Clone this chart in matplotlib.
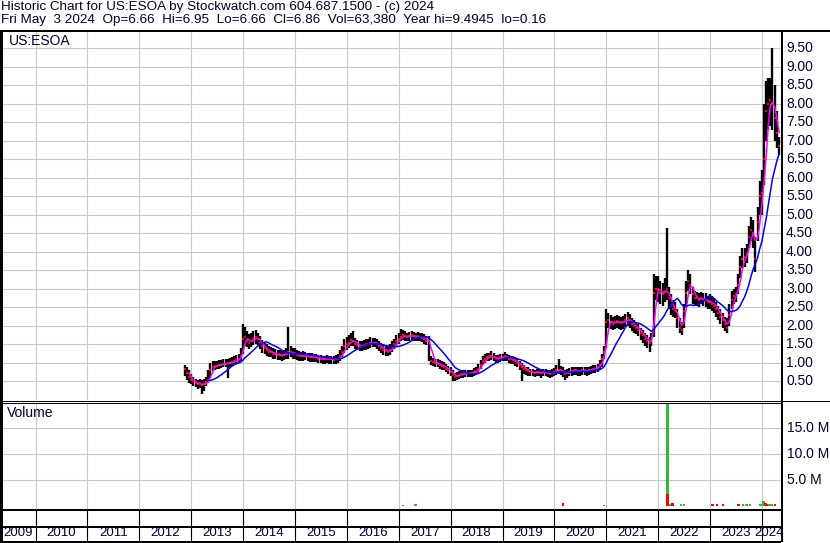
import numpy as np
import pandas as pd
import matplotlib
matplotlib.use("Agg")
import matplotlib.pyplot as plt
from matplotlib.lines import Line2D
from matplotlib.transforms import blended_transform_factory

plt.rcParams['font.family'] = ['Liberation Sans', 'DejaVu Sans']

W, H = 830, 543
INK = "#000033"

# semi-monthly bars (1st / 15th), starting 2012-11-15, last one 2024-05-01
close_px = [
    0.85, 0.72, 0.62,  # 2012
    0.55, 0.50, 0.45, 0.42, 0.45, 0.40, 0.42, 0.48, 0.55, 0.80, 0.90, 0.92,
    0.93, 0.95, 0.95, 0.97, 0.98, 1.00, 1.00, 1.02, 1.05, 1.08, 1.10, 1.20,  # 2013
    1.65, 1.70, 1.60, 1.55, 1.60, 1.65, 1.70, 1.65, 1.55, 1.45, 1.40, 1.35,
    1.30, 1.30, 1.25, 1.25, 1.22, 1.22, 1.20, 1.22, 1.25, 1.30, 1.30, 1.25,  # 2014
    1.25, 1.22, 1.20, 1.18, 1.20, 1.20, 1.18, 1.15, 1.15, 1.15, 1.15, 1.12,
    1.12, 1.10, 1.10, 1.12, 1.10, 1.10, 1.08, 1.10, 1.12, 1.20, 1.30, 1.45,  # 2015
    1.50, 1.55, 1.62, 1.60, 1.52, 1.48, 1.45, 1.45, 1.48, 1.50, 1.52, 1.55,
    1.55, 1.55, 1.50, 1.45, 1.40, 1.35, 1.32, 1.30, 1.35, 1.42, 1.50, 1.58,  # 2016
    1.65, 1.70, 1.75, 1.72, 1.70, 1.72, 1.75, 1.72, 1.70, 1.72, 1.70, 1.68,
    1.65, 1.60, 1.60, 1.05, 1.02, 1.00, 0.98, 0.95, 0.92, 0.90, 0.85, 0.80,  # 2017
    0.75, 0.68, 0.62, 0.65, 0.68, 0.70, 0.70, 0.72, 0.72, 0.72, 0.72, 0.75,
    0.78, 0.85, 0.95, 1.05, 1.12, 1.15, 1.18, 1.20, 1.15, 1.12, 1.12, 1.15,  # 2018
    1.15, 1.18, 1.15, 1.12, 1.10, 1.08, 1.05, 1.00, 0.95, 0.90, 0.85, 0.80,
    0.78, 0.75, 0.75, 0.72, 0.75, 0.75, 0.72, 0.75, 0.75, 0.72, 0.70, 0.72,  # 2019
    0.75, 0.80, 0.82, 0.80, 0.75, 0.70, 0.72, 0.75, 0.78, 0.80, 0.80, 0.78,
    0.78, 0.80, 0.80, 0.78, 0.80, 0.82, 0.85, 0.85, 0.88, 0.95, 1.10, 1.30,  # 2020
    2.10, 2.15, 2.10, 2.05, 2.10, 2.12, 2.10, 2.08, 2.10, 2.15, 2.20, 2.15,
    2.05, 2.00, 1.95, 1.90, 1.80, 1.75, 1.65, 1.60, 1.55, 1.60, 2.90, 3.00,  # 2021
    3.00, 2.90, 2.85, 2.95, 3.00, 2.75, 2.55, 2.45, 2.40, 2.20, 1.95, 1.90,
    2.40, 2.90, 3.20, 3.10, 2.85, 2.75, 2.75, 2.70, 2.75, 2.72, 2.70, 2.65,  # 2022
    2.65, 2.60, 2.55, 2.45, 2.35, 2.25, 2.15, 2.05, 1.95, 2.30, 2.70, 2.80,
    2.85, 3.10, 3.60, 3.80, 3.85, 3.95, 4.40, 4.60, 4.50, 3.80, 4.80, 5.50,  # 2023
    5.60, 6.50, 7.80, 8.00, 8.10, 8.00, 7.60, 7.20, 6.86,  # 2024
]

high_px = [
    0.95, 0.90, 0.80,
    0.70, 0.62, 0.58, 0.55, 0.58, 0.55, 0.56, 0.62, 0.80, 1.00, 1.05, 1.05,
    1.06, 1.08, 1.08, 1.10, 1.10, 1.12, 1.14, 1.15, 1.18, 1.22, 1.25, 1.40,
    2.05, 1.98, 1.85, 1.78, 1.80, 1.85, 1.88, 1.82, 1.72, 1.62, 1.55, 1.50,
    1.45, 1.42, 1.40, 1.38, 1.36, 1.35, 1.33, 1.35, 1.40, 1.98, 1.45, 1.40,
    1.40, 1.35, 1.32, 1.30, 1.32, 1.30, 1.28, 1.26, 1.26, 1.25, 1.25, 1.22,
    1.22, 1.20, 1.20, 1.22, 1.20, 1.20, 1.18, 1.22, 1.25, 1.35, 1.45, 1.65,
    1.70, 1.75, 1.80, 1.85, 1.68, 1.62, 1.60, 1.60, 1.62, 1.65, 1.66, 1.70,
    1.68, 1.68, 1.65, 1.60, 1.55, 1.50, 1.46, 1.45, 1.50, 1.58, 1.66, 1.75,
    1.80, 1.92, 1.88, 1.85, 1.82, 1.84, 1.86, 1.84, 1.82, 1.84, 1.82, 1.80,
    1.78, 1.74, 1.72, 1.20, 1.14, 1.12, 1.10, 1.08, 1.05, 1.02, 0.98, 0.92,
    0.88, 0.80, 0.74, 0.76, 0.78, 0.80, 0.80, 0.82, 0.82, 0.82, 0.82, 0.86,
    0.90, 0.98, 1.08, 1.18, 1.24, 1.26, 1.28, 1.32, 1.26, 1.22, 1.22, 1.25,
    1.25, 1.30, 1.25, 1.22, 1.20, 1.18, 1.15, 1.10, 1.05, 1.00, 0.95, 0.90,
    0.88, 0.85, 0.85, 0.82, 0.85, 0.85, 0.82, 0.85, 0.85, 0.82, 0.80, 0.84,
    0.86, 0.95, 1.10, 0.92, 0.88, 0.82, 0.84, 0.86, 0.88, 0.90, 0.90, 0.88,
    0.88, 0.90, 0.90, 0.88, 0.90, 0.92, 0.95, 0.95, 0.98, 1.08, 1.25, 1.45,
    2.45, 2.35, 2.30, 2.25, 2.28, 2.30, 2.28, 2.25, 2.28, 2.32, 2.38, 2.32,
    2.22, 2.15, 2.10, 2.05, 1.95, 1.90, 1.80, 1.75, 1.70, 1.80, 3.40, 3.35,
    3.35, 3.20, 3.15, 3.30, 4.65, 3.05, 2.85, 2.70, 2.65, 2.45, 2.20, 2.10,
    2.60, 3.20, 3.50, 3.40, 3.05, 2.95, 2.92, 2.88, 2.92, 2.90, 2.88, 2.82,
    2.85, 2.80, 2.75, 2.65, 2.55, 2.45, 2.35, 2.25, 2.20, 2.60, 2.95, 3.00,
    3.05, 3.40, 3.90, 4.10, 4.10, 4.20, 4.70, 4.95, 4.85, 4.40, 5.20, 5.90,
    6.20, 8.00, 8.60, 8.70, 8.70, 9.50, 8.50, 7.80, 7.10,
]

low_px = [
    0.65, 0.55, 0.45,
    0.42, 0.38, 0.35, 0.30, 0.32, 0.16, 0.25, 0.38, 0.45, 0.60, 0.78, 0.82,
    0.84, 0.85, 0.86, 0.88, 0.88, 0.60, 0.90, 0.92, 0.95, 0.98, 1.00, 1.05,
    1.25, 1.45, 1.42, 1.38, 1.42, 1.48, 1.52, 1.48, 1.38, 1.28, 1.25, 1.20,
    1.15, 1.15, 1.10, 1.10, 1.08, 1.08, 1.05, 1.08, 1.10, 1.12, 1.15, 1.10,
    1.10, 1.08, 1.06, 1.05, 1.06, 1.08, 1.05, 1.02, 1.02, 1.02, 1.02, 1.00,
    1.00, 0.98, 0.98, 1.00, 0.98, 0.98, 0.96, 0.98, 1.00, 1.06, 1.15, 1.28,
    1.35, 1.40, 1.45, 1.45, 1.38, 1.34, 1.32, 1.32, 1.35, 1.36, 1.38, 1.40,
    1.42, 1.42, 1.38, 1.32, 1.28, 1.22, 1.20, 1.18, 1.22, 1.30, 1.38, 1.45,
    1.50, 1.58, 1.62, 1.60, 1.58, 1.60, 1.62, 1.60, 1.58, 1.60, 1.58, 1.56,
    1.52, 1.48, 1.05, 0.95, 0.92, 0.90, 0.88, 0.85, 0.82, 0.80, 0.75, 0.70,
    0.65, 0.52, 0.50, 0.55, 0.58, 0.60, 0.60, 0.62, 0.62, 0.62, 0.62, 0.65,
    0.68, 0.74, 0.84, 0.94, 1.00, 1.04, 1.06, 1.08, 1.04, 1.00, 1.00, 1.02,
    1.04, 1.06, 1.04, 1.00, 0.98, 0.96, 0.92, 0.88, 0.82, 0.52, 0.70, 0.68,
    0.66, 0.64, 0.64, 0.62, 0.64, 0.64, 0.60, 0.64, 0.64, 0.62, 0.60, 0.62,
    0.64, 0.68, 0.70, 0.68, 0.62, 0.55, 0.60, 0.64, 0.66, 0.68, 0.68, 0.66,
    0.66, 0.68, 0.68, 0.66, 0.68, 0.70, 0.72, 0.74, 0.76, 0.82, 0.90, 1.10,
    1.40, 1.95, 1.92, 1.88, 1.92, 1.95, 1.92, 1.90, 1.92, 1.98, 2.00, 1.95,
    1.85, 1.82, 1.78, 1.72, 1.62, 1.55, 1.45, 1.40, 1.30, 1.45, 1.70, 2.70,
    2.65, 2.60, 2.55, 2.65, 2.70, 2.45, 2.30, 2.25, 2.20, 1.95, 1.80, 1.75,
    1.95, 2.50, 2.95, 2.85, 2.60, 2.55, 2.55, 2.50, 2.58, 2.55, 2.52, 2.45,
    2.45, 2.40, 2.35, 2.25, 2.15, 2.05, 1.95, 1.85, 1.82, 2.00, 2.45, 2.60,
    2.65, 2.85, 3.30, 3.55, 3.60, 3.70, 4.10, 4.30, 4.10, 3.45, 4.30, 5.00,
    5.00, 5.80, 7.00, 7.30, 7.40, 7.30, 7.00, 6.80, 6.60,
]

# volume (shares), up days green / down days red
up_vol_dates = ["2017-02-01", "2017-05-01", "2020-12-15", "2022-03-07", "2022-03-20",
                "2022-06-10", "2022-07-01", "2023-08-20", "2023-09-15", "2023-10-10",
                "2023-12-20", "2024-01-10", "2024-02-20", "2024-03-10"]
up_vol = [0.25e6, 0.45e6, 0.25e6, 22e6, 0.3e6,
          0.3e6, 0.3e6, 0.3e6, 0.3e6, 0.3e6,
          0.4e6, 1.0e6, 0.35e6, 0.3e6]
down_vol_dates = ["2020-03-01", "2022-03-07", "2022-04-10", "2023-01-20", "2023-02-20",
                  "2023-04-01", "2023-07-20", "2024-01-25", "2024-02-05", "2024-04-01"]
down_vol = [0.5e6, 2.3e6, 0.5e6, 0.35e6, 0.35e6,
            0.35e6, 0.4e6, 0.5e6, 0.4e6, 0.3e6]

years = list(range(2009, 2025))
price_ticks = [0.5 * k for k in range(1, 20)]
vol_ticks = [5e6, 10e6, 15e6]
vol_tick_labels = ["5.0 M", "10.0 M", "15.0 M"]

header1 = "Historic Chart for US:ESOA by Stockwatch.com 604.687.1500 - (c) 2024"
header2 = ("Fri May  3 2024  Op=6.66  Hi=6.95  Lo=6.66  Cl=6.86  Vol=63,380  "
           "Year hi=9.4945  lo=0.16")


def dec_year(d):
    d = pd.to_datetime(d)
    return d.year + (d.dayofyear - 1) / np.where(d.is_leap_year, 366.0, 365.0)


def fx(px):
    return px / W


def fy(py):
    return 1 - py / H


assert len(close_px) == len(high_px) == len(low_px)
dates = pd.date_range("2012-11-15", periods=len(close_px), freq="SMS")
t = dec_year(dates)
close_s = pd.Series(close_px)
ma_fast = close_s.rolling(3).mean()
ma_slow = close_s.rolling(12).mean()

XMIN, XMAX = 2009.335, 2024.367
GRID = "#c8c8c8"

fig = plt.figure(figsize=(W / 100, H / 100), dpi=100)
fig.patch.set_facecolor("white")

ax = fig.add_axes([fx(1), fy(400), fx(781) - fx(1), fy(31) - fy(400)])
axv = fig.add_axes([fx(1), fy(508.5), fx(781) - fx(1), fy(403) - fy(508.5)])
axb = fig.add_axes([fx(1), fy(541), fx(781) - fx(1), fy(508.5) - fy(541)])

for a in (ax, axv, axb):
    a.set_xlim(XMIN, XMAX)
    a.set_xticks([])
    a.set_yticks([])
    for s in a.spines.values():
        s.set_visible(False)

# price panel
ax.set_ylim(0, 9.96)
for yr in years[1:]:
    ax.axvline(yr, color=GRID, lw=0.8, zorder=0)
for p in price_ticks:
    ax.axhline(p, color=GRID, lw=0.8, zorder=0)
ax.vlines(t, low_px, high_px, color="black", lw=1.7, zorder=2)
ax.plot(t, close_px, "s", color="red", ms=1.6, mew=0, zorder=3)
ax.plot(t, ma_fast, color="#ff00ff", lw=1.1, zorder=4)
ax.plot(t, ma_slow, color="#0000ff", lw=1.1, zorder=5)
ax.text(fx(9), fy(41), "US:ESOA", transform=fig.transFigure, fontsize=10,
        color=INK, va="center", ha="left")

tr_p = blended_transform_factory(fig.transFigure, ax.transData)
for p in price_ticks:
    ax.text(fx(786), p, "%.2f" % p, transform=tr_p, fontsize=10, color=INK,
            va="center", ha="left", clip_on=False)

# volume panel
axv.set_ylim(-0.5e6, 19.9e6)
for yr in years[1:]:
    axv.axvline(yr, color=GRID, lw=0.8, zorder=0)
for v in vol_ticks:
    axv.axhline(v, color=GRID, lw=0.8, zorder=0)
axv.bar(dec_year(up_vol_dates), up_vol, width=0.05, color="#33bb33", lw=0, zorder=2)
axv.bar(dec_year(down_vol_dates), down_vol, width=0.05, color="#ff0000", lw=0, zorder=3)
axv.text(fx(7), fy(413), "Volume", transform=fig.transFigure, fontsize=10,
         color=INK, va="center", ha="left")
tr_v = blended_transform_factory(fig.transFigure, axv.transData)
for v, lab in zip(vol_ticks, vol_tick_labels):
    axv.text(fx(787), v, lab, transform=tr_v, fontsize=10, color=INK,
             va="center", ha="left", clip_on=False)

# year band
axb.set_ylim(0, 1)
for yr in years[1:]:
    axb.axvline(yr, color="black", lw=0.8)
tr_b = blended_transform_factory(axb.transData, axb.transAxes)
for yr in years:
    lo = max(yr, XMIN)
    hi = min(yr + 1, XMAX)
    if yr == years[-1]:
        axb.text(XMAX + 0.05, 0.24, str(yr), transform=tr_b, fontsize=9.5,
                 color=INK, ha="right", va="center", clip_on=False)
    else:
        axb.text((lo + hi) / 2, 0.24, str(yr), transform=tr_b, fontsize=9.5,
                 color=INK, ha="center", va="center")


def line(x0, y0, x1, y1, px):
    fig.add_artist(Line2D([fx(x0), fx(x1)], [fy(y0), fy(y1)],
                          transform=fig.transFigure, color="black",
                          lw=px * 0.72, solid_capstyle="butt"))


# frame
line(0, 31, 830, 31, 2)
line(1, 31, 1, 542, 3)
line(781.5, 31, 781.5, 542, 2)
line(0, 400.5, 830, 400.5, 1)
line(0, 403, 781, 403, 1)
line(0, 509.5, 781, 509.5, 2)
line(0, 526.5, 781, 526.5, 2)
line(0, 541.5, 781, 541.5, 2)

# header
fig.text(fx(1), fy(7), header1, fontsize=9.7, color=INK, va="center", ha="left")
fig.text(fx(1), fy(20), header2, fontsize=9.7, color=INK, va="center", ha="left")

fig.savefig("out.png", dpi=100, facecolor="white")
